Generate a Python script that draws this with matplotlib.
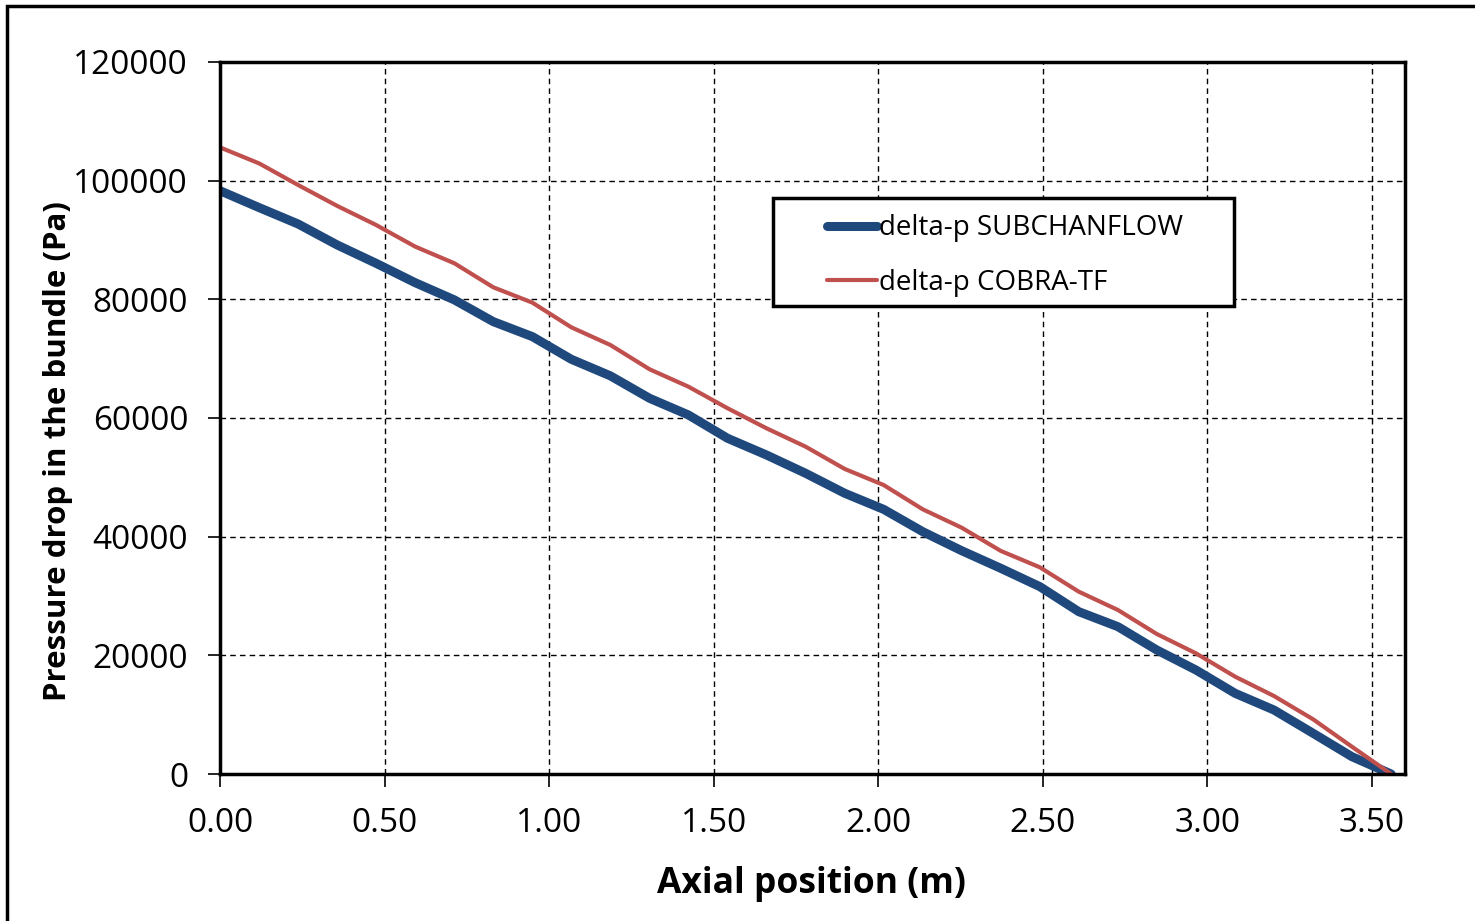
import matplotlib.pyplot as plt
from matplotlib.patches import Rectangle

# axial nodes (m)
axial_pos = [0.000, 0.119, 0.237, 0.356, 0.474, 0.593, 0.712, 0.830, 0.949, 1.067,
             1.186, 1.305, 1.423, 1.542, 1.660, 1.779, 1.898, 2.016, 2.135, 2.253,
             2.372, 2.491, 2.609, 2.728, 2.846, 2.965, 3.084, 3.202, 3.321, 3.439, 3.558]

dp_subchanflow = [98300, 95450, 92700, 89160, 86070, 82800, 79900, 76240, 73710, 69900,
                  67100, 63320, 60510, 56580, 53770, 50680, 47310, 44610, 40840, 37640,
                  34670, 31570, 27360, 24830, 20900, 17530, 13600, 10790, 6860, 2920, 0]

dp_cobra = [105600, 102900, 99270, 95740, 92530, 88880, 86070, 82030, 79440, 75290,
            72300, 68210, 65280, 61640, 58270, 55170, 51410, 48710, 44610, 41520,
            37600, 34830, 30730, 27640, 23600, 20340, 16410, 13150, 9220, 4600, 0]

xticks = [0.0, 0.5, 1.0, 1.5, 2.0, 2.5, 3.0, 3.5]
yticks = [0, 20000, 40000, 60000, 80000, 100000, 120000]

plt.rcParams['font.family'] = ['Open Sans', 'DejaVu Sans']

fig = plt.figure(figsize=(14.75, 9.21), dpi=100)
ax = fig.add_axes([0.1492, 0.1596, 0.8033, 0.7731])

ax.plot(axial_pos, dp_subchanflow, '-', color='#1F497D', lw=6.5,
        solid_capstyle='round', label='delta-p SUBCHANFLOW')
ax.plot(axial_pos, dp_cobra, '-', color='#C0504D', lw=3,
        solid_capstyle='round', label='delta-p COBRA-TF')

ax.set_xlim(0, 3.6)
ax.set_ylim(0, 120000)
ax.set_xticks(xticks)
ax.set_xticklabels([f'{v:.2f}' for v in xticks])
ax.set_yticks(yticks)
ax.set_yticklabels([str(v) for v in yticks])
ax.tick_params(labelsize=24, length=9, width=1.2, direction='out')
ax.tick_params(axis='x', pad=15)
ax.tick_params(axis='y', pad=14)
ax.grid(True, linestyle=(0, (4, 3)), color='black', lw=1.0)

for s in ax.spines.values():
    s.set_linewidth(2.5)

ax.set_xlabel('Axial position (m)', fontsize=25.5, fontweight='bold')
ax.set_ylabel('Pressure drop in the bundle (Pa)', fontsize=22.5, fontweight='bold')
ax.xaxis.set_label_coords(0.499, -0.129)
ax.yaxis.set_label_coords(-0.124, 0.454)

# legend box drawn separately so its padding matches the original
ax.add_patch(Rectangle((0.4667, 0.6573), 0.389, 0.1517, transform=ax.transAxes,
                       facecolor='white', edgecolor='black', lw=2.5, zorder=4))
leg = ax.legend(loc='center left', bbox_to_anchor=(0.512, 0.728), fontsize=20,
                frameon=False, handlelength=1.8, handletextpad=0.1,
                borderpad=0, labelspacing=0.95, borderaxespad=0)
leg.set_zorder(5)

# outer chart-area border
fig.patches.append(Rectangle((0.005, -0.01), 1.1, 1.004, transform=fig.transFigure,
                             fill=False, edgecolor='black', lw=2.5))

fig.savefig('out.png', dpi=100)
